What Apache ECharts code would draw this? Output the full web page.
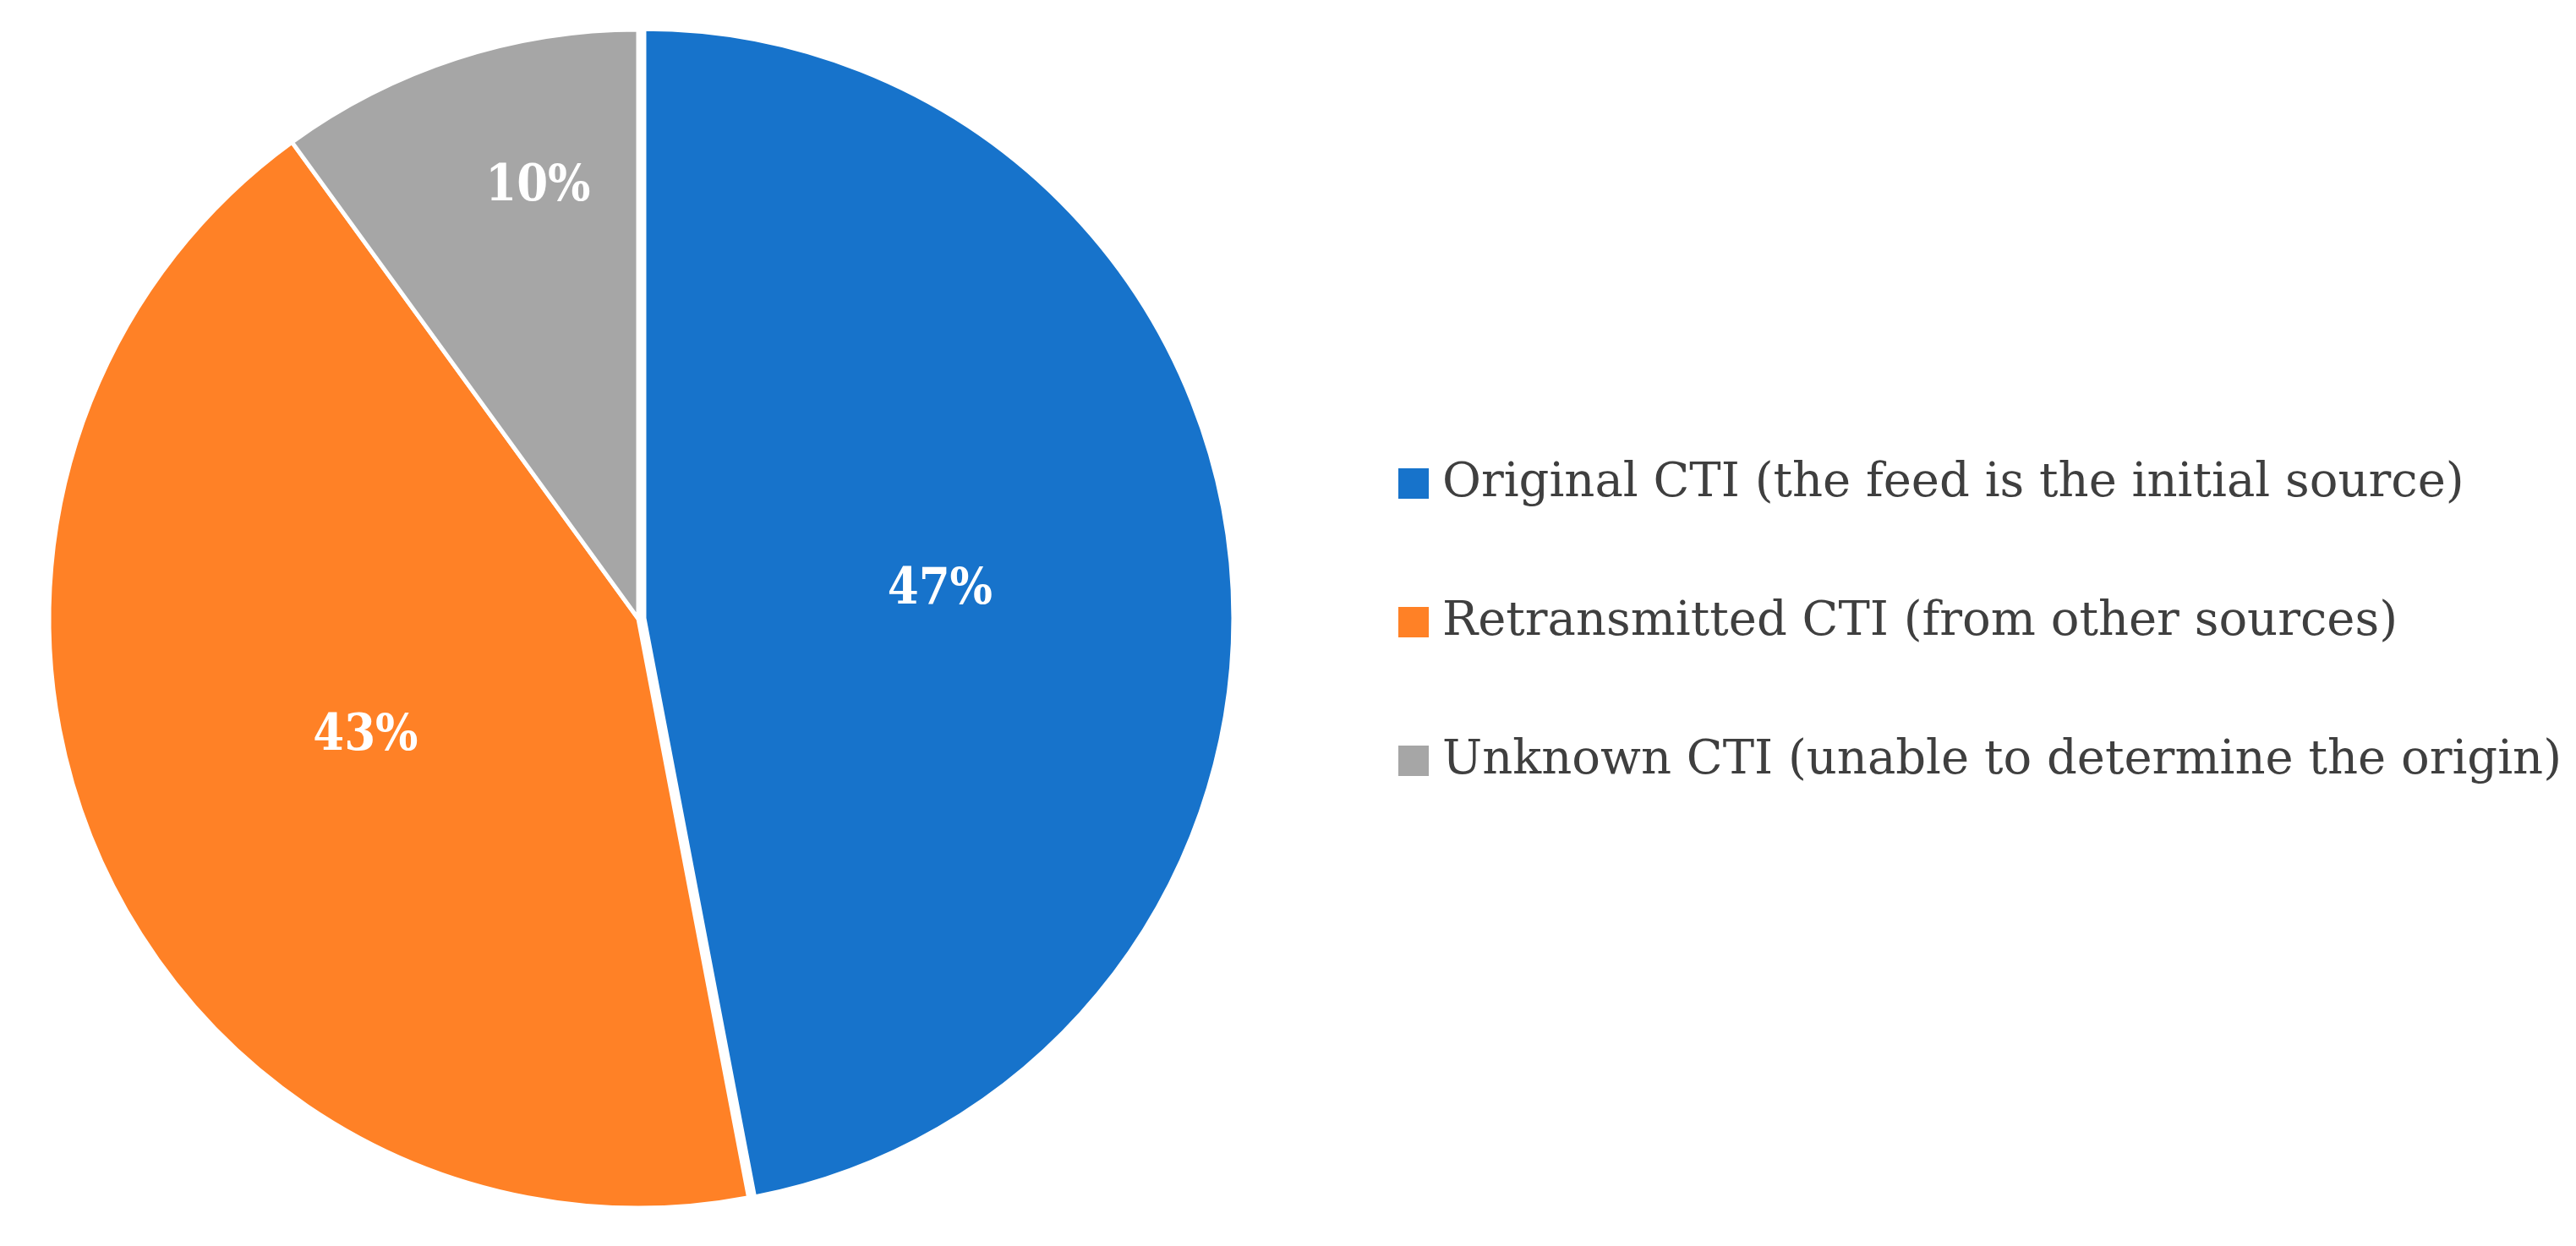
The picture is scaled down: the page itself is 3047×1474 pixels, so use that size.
<!DOCTYPE html>
<html>
<head>
<meta charset="utf-8">
<script src="https://cdn.jsdelivr.net/npm/echarts@6/dist/echarts.min.js"></script>
<style>
  html, body { margin: 0; padding: 0; background: #fff; }
  #chart { width: 3047px; height: 1474px; }
</style>
</head>
<body>
<div id="chart"></div>
<script>
// CTI origin shares
const categories = [
  "Original CTI (the feed is the initial source)",
  "Retransmitted CTI (from other sources)",
  "Unknown CTI (unable to determine the origin)"
];
const shares = [47, 43, 10];
const colors = ["#1773cb", "#ff8126", "#a6a6a6"];

const chart = echarts.init(document.getElementById("chart"));

const option = {
  backgroundColor: "#ffffff",
  animation: false,
  color: colors,
  legend: {
    orient: "vertical",
    left: 1652,
    top: 542,
    padding: 0,
    itemWidth: 38,
    itemHeight: 38,
    itemGap: 104,
    icon: "rect",
    selectedMode: false,
    textStyle: {
      fontFamily: "DejaVu Serif",
      fontSize: 56,
      lineHeight: 60,
      color: "#3f3f3f",
      padding: [0, 0, 0, 10]
    },
    data: categories
  },
  series: [
    {
      type: "pie",
      center: [755, 732],
      radius: 697,
      startAngle: 90,
      clockwise: true,
      selectedMode: "single",
      selectedOffset: 7,
      itemStyle: {
        borderColor: "#ffffff",
        borderWidth: 5
      },
      emphasis: { scale: false },
      label: {
        show: true,
        position: "inside",
        formatter: "{c}%",
        color: "#ffffff",
        fontFamily: "DejaVu Serif Condensed, DejaVu Serif",
        fontWeight: "bold",
        fontSize: 59
      },
      labelLine: { show: false },
      data: categories.map((name, i) => {
        const item = { name: name, value: shares[i] };
        if (i === 0) item.selected = true;
        // Excel puts the small slice label further out
        if (i === 2) item.label = { offset: [-10, -176] };
        return item;
      })
    }
  ]
};

chart.setOption(option);
</script>
</body>
</html>
